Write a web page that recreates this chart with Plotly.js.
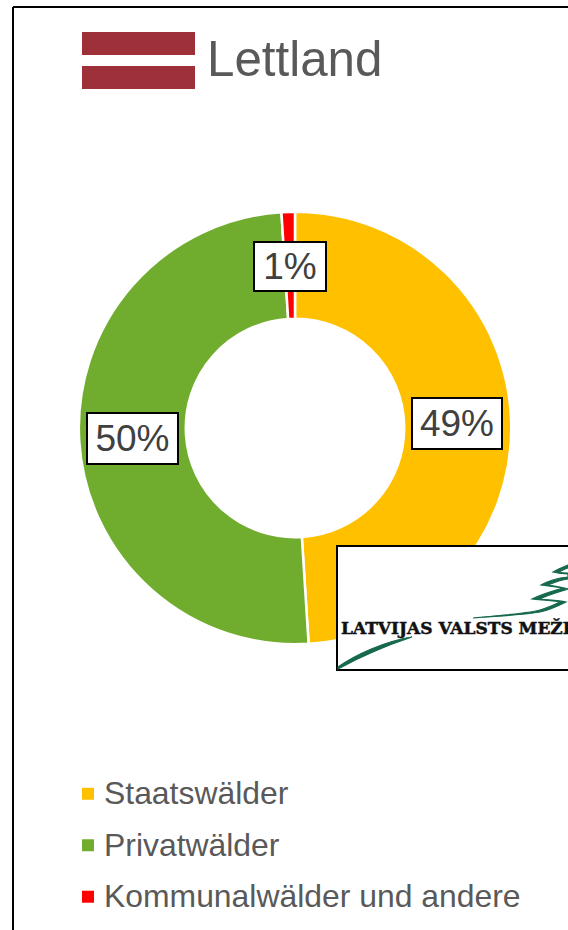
<!DOCTYPE html>
<html>
<head>
<meta charset="utf-8">
<script src="https://cdn.plot.ly/plotly-3.0.1.min.js"></script>
<style>html,body{margin:0;padding:0;background:#fff;overflow:hidden}</style>
</head>
<body>
<div id="chart" style="width:568px;height:930px"></div>
<script>
const categories = ["Staatswälder", "Privatwälder", "Kommunalwälder und andere"];
const shares = [49, 50, 1];
const sliceColors = ["#FFC000", "#70AD2F", "#FF0000"];
const chartTitle = "Lettland";
const logoText = "LATVIJAS VALSTS MEŽI";

const W = 568, H = 930;
const X = p => p / W, Y = p => 1 - p / H;
const pathOf = s => s.replace(/(-?\d+\.?\d*),(-?\d+\.?\d*)/g, (m, a, b) => X(+a) + "," + Y(+b));
const rect = (x0, y0, x1, y1, fill, line) => ({
  type: "rect", xref: "paper", yref: "paper", layer: "above",
  x0: X(x0), x1: X(x1), y0: Y(y1), y1: Y(y0),
  fillcolor: fill, line: line || {width: 0}
});
const lineShape = (x0, y0, x1, y1) => ({
  type: "line", xref: "paper", yref: "paper", layer: "above",
  x0: X(x0), x1: X(x1), y0: Y(y0), y1: Y(y1), line: {color: "#000", width: 2}
});
const tree = d => ({
  type: "path", xref: "paper", yref: "paper", layer: "above",
  path: pathOf(d), fillcolor: "#17694C", line: {width: 1.2, color: "#17694C"}
});
const boxLabel = (i, cx, cy, w, h) => ({
  xref: "paper", yref: "paper", x: X(cx), y: Y(cy), xanchor: "center", yanchor: "middle",
  text: shares[i] + "%", showarrow: false, width: w, height: h,
  bgcolor: "#fff", bordercolor: "#000", borderwidth: 2, borderpad: 0,
  font: {family: "Liberation Sans", size: 37, color: "#404040"}
});

const data = [{
  type: "pie", labels: categories.map(c => '<span style="font-size:31.9px">' + c + '</span>'),
  values: shares, hole: 0.505, sort: false, direction: "clockwise", rotation: 0,
  marker: {colors: sliceColors, line: {color: "#fff", width: 2.5}},
  textinfo: "none", hoverinfo: "skip",
  domain: {x: [X(78.75), X(511.25)], y: [Y(644.25), Y(211.75)]}
}];

const layout = {
  width: W, height: H, margin: {l: 0, r: 0, t: 0, b: 0},
  paper_bgcolor: "#fff", showlegend: true,
  font: {family: "Liberation Sans"},
  title: {text: chartTitle, x: X(207), xanchor: "left", y: Y(59), yanchor: "middle",
          font: {family: "Liberation Sans", size: 49.3, color: "#595959"}},
  legend: {x: X(64), xanchor: "left", y: Y(759), yanchor: "top",
           bgcolor: "rgba(0,0,0,0)", itemclick: false, itemdoubleclick: false,
           font: {family: "Liberation Sans", size: 37.3, color: "#595959"}},
  shapes: [
    lineShape(13, 7, 568, 7), lineShape(13, 7, 13, 930),
    rect(82, 32, 195, 55, "#9E3039"), rect(82, 66, 195, 89, "#9E3039"),
    rect(337, 546, 570, 670, "#fff", {color: "#000", width: 2}),
    tree("M338,667 C355,655 385,641 412,637 C388,645 358,658 338,669 Z"),
    tree("M473,618 C500,615 530,614 543,609 C552,606 556,604 560,602 C552,600 540,600 532,599 C540,595 552,591 563,588 C556,587 548,586 541,585 C548,581 558,578 568,577 L568,574 C562,574 557,573 553,572 C558,569 563,567 568,565 L568,568 C564,569 561,571 559,572 C562,573 566,573 568,573 L568,579 C560,580 553,583 548,585 C555,586 562,587 568,589 C558,592 547,595 540,599 C548,600 558,600 566,602 C558,606 550,610 540,612 C525,615 498,616 473,618 Z")
  ],
  annotations: [
    boxLabel(0, 457, 423.5, 88, 49),
    boxLabel(1, 132.5, 438.5, 89, 49),
    boxLabel(2, 290, 266.5, 70, 47),
    {xref: "paper", yref: "paper", x: X(339), y: Y(628), xanchor: "left", yanchor: "middle",
     text: logoText, showarrow: false,
     font: {family: "DejaVu Serif", size: 17, color: "#111", weight: 700}}
  ]
};

Plotly.newPlot("chart", data, layout, {displayModeBar: false, staticPlot: true}).then(() => {
  document.querySelectorAll(".legend .legendpoints path").forEach(p => {
    p.setAttribute("transform", "translate(24,4)");
    p.style.strokeWidth = "0";
  });
  document.querySelectorAll(".annotation-text").forEach(t => {
    if (t.textContent === logoText) { t.style.stroke = "#111"; t.style.strokeWidth = "0.5px"; }
  });
});
</script>
</body>
</html>
